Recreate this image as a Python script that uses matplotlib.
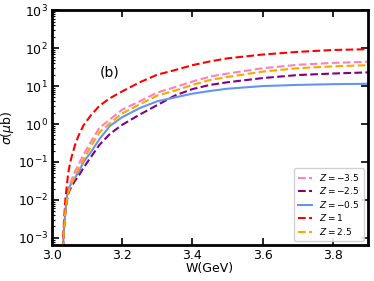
import numpy as np
import matplotlib
matplotlib.use("Agg")
import matplotlib.pyplot as plt

# ── Data (log10 of sigma in mub) ───────────────────────────────────
W = [3.031, 3.034, 3.038, 3.042, 3.046, 3.05, 3.056, 3.065, 3.075, 3.09,
     3.11, 3.135, 3.165, 3.2, 3.25, 3.3, 3.35, 3.4, 3.45, 3.5,
     3.6, 3.7, 3.8, 3.9]

lg_m35 = [-3.3, -2.7, -2.2, -1.9, -1.75, -1.62, -1.47, -1.25, -1.08, -0.8,
          -0.48, -0.1, 0.12, 0.38, 0.6, 0.83, 0.97, 1.12, 1.25, 1.33,
          1.47, 1.56, 1.61, 1.64]
lg_m25 = [-3.3, -2.8, -2.35, -2.05, -1.85, -1.75, -1.64, -1.5, -1.38, -1.15,
          -0.88, -0.55, -0.26, -0.02, 0.25, 0.5, 0.75, 0.92, 1.03, 1.1,
          1.21, 1.29, 1.33, 1.36]
lg_m05 = [-3.3, -2.8, -2.3, -1.95, -1.72, -1.65, -1.55, -1.42, -1.28, -1.0,
          -0.75, -0.4, -0.05, 0.18, 0.42, 0.6, 0.7, 0.8, 0.87, 0.93,
          1.0, 1.03, 1.05, 1.06]
lg_p1 = [-3.3, -2.6, -2.0, -1.65, -1.3, -1.1, -0.86, -0.57, -0.32, -0.03,
         0.22, 0.48, 0.68, 0.86, 1.1, 1.3, 1.42, 1.55, 1.65, 1.73,
         1.83, 1.9, 1.95, 1.97]
lg_p25 = [-3.3, -2.8, -2.3, -2.0, -1.82, -1.7, -1.56, -1.37, -1.2, -0.93,
          -0.6, -0.22, 0.02, 0.28, 0.52, 0.75, 0.88, 1.03, 1.16, 1.24,
          1.38, 1.47, 1.52, 1.55]

labels = [r"$Z=-3.5$", r"$Z=-2.5$", r"$Z=-0.5$", r"$Z=1$", r"$Z=2.5$"]
series = [lg_m35, lg_m25, lg_m05, lg_p1, lg_p25]
colors = ["#ff80b8", "purple", "cornflowerblue", "red", "orange"]
styles = ["--", "--", "-", "--", "--"]

# ── Figure ────────────────────────────────────────────────────────
fig = plt.figure(figsize=(3.74, 2.81), dpi=100)
ax = fig.add_axes([0.139, 0.128, 0.845, 0.836])

for lg, lab, c, ls in zip(series, labels, colors, styles):
    ax.plot(W, 10 ** np.array(lg), ls, color=c, lw=1.5, label=lab)

ax.set_yscale("log")
ax.set_xlim(3.0, 3.9)
ax.set_ylim(6.5e-4, 1e3)
ax.set_xticks([3.0, 3.2, 3.4, 3.6, 3.8])
ax.set_xlabel("W(GeV)", fontsize=9, labelpad=0)
ax.set_ylabel(r"$\sigma(\mu$b$)$", fontsize=9, labelpad=1)

for sp in ax.spines.values():
    sp.set_linewidth(2)
ax.tick_params(which="major", direction="in", top=True, right=True,
               length=5, width=1.2, labelsize=9, pad=3)
ax.tick_params(which="minor", direction="in", left=True, right=False,
               length=2.5, width=0.8)

ax.text(0.15, 0.735, "(b)", transform=ax.transAxes, fontsize=10,
        ha="left", va="center")

ax.legend(loc="lower right", fontsize=6.5, handlelength=1.6,
          handletextpad=0.8, borderaxespad=0.5, labelspacing=0.28,
          framealpha=0.9)

fig.savefig("out.png", dpi=100)
plt.close(fig)
